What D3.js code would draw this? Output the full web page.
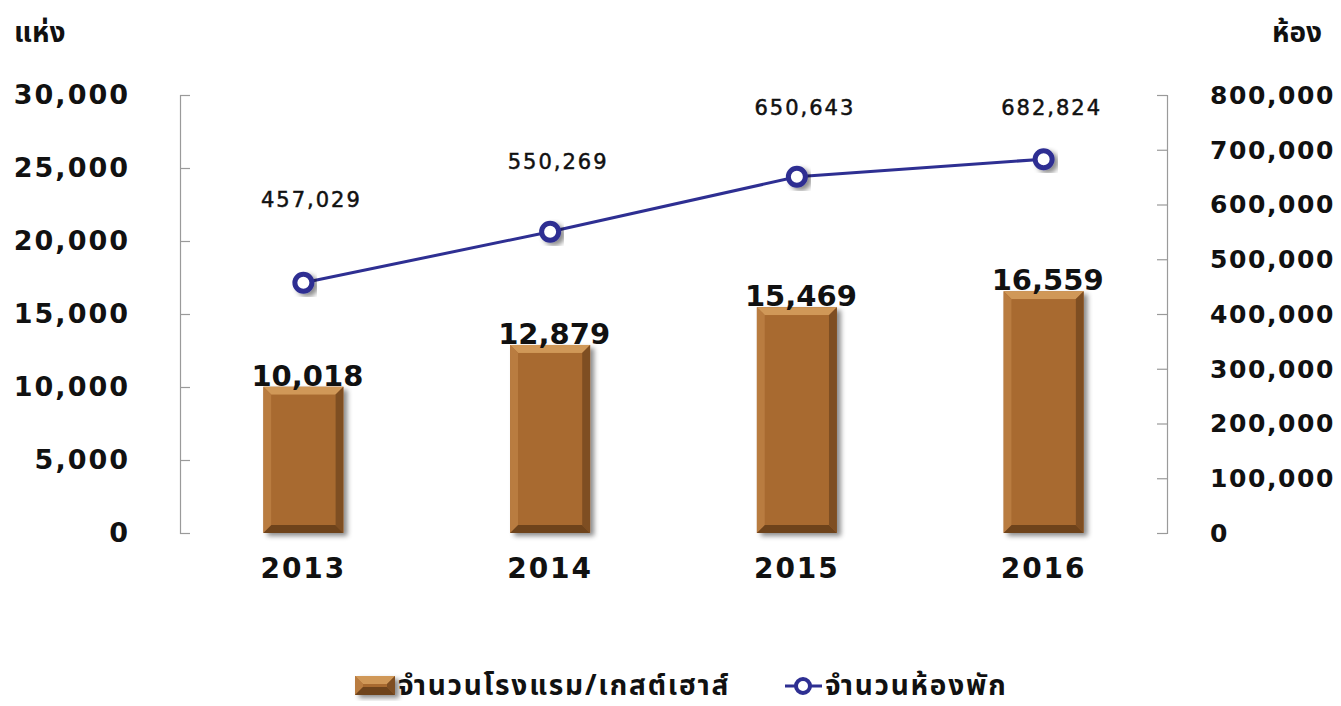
<!DOCTYPE html>
<html>
<head>
<meta charset="utf-8">
<script src="https://cdn.jsdelivr.net/npm/d3@7"></script>
<style>
  body { margin: 0; background: #fff; }
  text { font-family: "Noto Sans Thai", "Noto Sans", "DejaVu Sans", sans-serif; fill: #111; }
  text.num { font-family: "DejaVu Sans", sans-serif; }
</style>
</head>
<body>
<div id="chart"></div>
<script>
// data
var years = ["2013", "2014", "2015", "2016"];
var hotels = [10018, 12879, 15469, 16559];
var rooms = [457029, 550269, 650643, 682824];
var leftTicks = [0, 5000, 10000, 15000, 20000, 25000, 30000];
var rightTicks = [0, 100000, 200000, 300000, 400000, 500000, 600000, 700000, 800000];
var seriesNames = ["จำนวนโรงแรม/เกสต์เฮาส์", "จำนวนห้องพัก"];

// line label nudges, hand placed like in the original
var labelDy = [-83, -70, -69, -52];

var W = 1341, H = 706;
var pLeft = 180, pRight = 1167, pTop = 95, pBottom = 533;

var svg = d3.select("#chart").append("svg")
   .attr("width", W)
   .attr("height", H);

var defs = svg.append("defs");
var f = defs.append("filter").attr("id", "shadow")
   .attr("x", "-20%").attr("y", "-20%").attr("width", "150%").attr("height", "150%");
f.append("feDropShadow").attr("dx", 4).attr("dy", 3).attr("stdDeviation", 2.5)
   .attr("flood-color", "#000").attr("flood-opacity", 0.45);

var x = d3.scaleBand().domain(years).range([pLeft, pRight]);
var yL = d3.scaleLinear().domain([0, 30000]).range([pBottom, pTop]);
var yR = d3.scaleLinear().domain([0, 800000]).range([pBottom, pTop]);
var fmt = d3.format(",");

// axes
var axL = svg.append("g").attr("transform", "translate(" + pLeft + ",0)")
   .call(d3.axisRight(yL).tickValues(leftTicks).tickSize(10).tickFormat(""));
var axR = svg.append("g").attr("transform", "translate(" + pRight + ",0)")
   .call(d3.axisLeft(yR).tickValues(rightTicks).tickSize(10).tickFormat(""));
[axL, axR].forEach(function(a){
    a.selectAll("path").attr("stroke", "#9a9a9a").attr("stroke-width", 1.2);
    a.selectAll("line").attr("stroke", "#9a9a9a").attr("stroke-width", 1.2);
});

svg.selectAll(".ltick").data(leftTicks).enter().append("text")
   .attr("class", "num")
   .attr("x", 130).attr("y", function(d){ return yL(d); })
   .attr("dy", "0.35em").attr("text-anchor", "end")
   .style("font-size", "27px").style("font-weight", "bold").style("letter-spacing", "2px")
   .text(function(d){ return fmt(d); });

svg.selectAll(".rtick").data(rightTicks).enter().append("text")
   .attr("class", "num")
   .attr("x", 1210).attr("y", function(d){ return yR(d); })
   .attr("dy", "0.35em").attr("text-anchor", "start")
   .style("font-size", "25px").style("font-weight", "bold").style("letter-spacing", "1.6px")
   .text(function(d){ return fmt(d); });

svg.append("text").attr("x", 14).attr("y", 42)
   .style("font-size", "28px").style("font-weight", "bold").text("แห่ง");
svg.append("text").attr("x", 1322).attr("y", 42).attr("text-anchor", "end")
   .style("font-size", "28px").style("font-weight", "bold").text("ห้อง");

svg.selectAll(".year").data(years).enter().append("text")
   .attr("class", "num")
   .attr("x", function(d){ return x(d) + x.bandwidth()/2; })
   .attr("y", 578).attr("text-anchor", "middle")
   .style("font-size", "28px").style("font-weight", "bold").style("letter-spacing", "2px")
   .text(function(d){ return d; });

// bevelled bar
function bevelBar(g, x0, y0, w, h) {
    var b = Math.min(8, h/2);
    g.append("rect").attr("x", x0).attr("y", y0).attr("width", w).attr("height", h)
       .attr("fill", "#a86a30").attr("filter", "url(#shadow)");
    var x1 = x0 + w, y1 = y0 + h;
    var pts = function(a){ return a.map(function(p){ return p.join(","); }).join(" "); };
    g.append("polygon").attr("points", pts([[x0,y0],[x1,y0],[x1-b,y0+b],[x0+b,y0+b]])).attr("fill", "#d09858");
    g.append("polygon").attr("points", pts([[x0,y0],[x0+b,y0+b],[x0+b,y1-b],[x0,y1]])).attr("fill", "#b97c40");
    g.append("polygon").attr("points", pts([[x1,y0],[x1,y1],[x1-b,y1-b],[x1-b,y0+b]])).attr("fill", "#7e4e22");
    g.append("polygon").attr("points", pts([[x0,y1],[x0+b,y1-b],[x1-b,y1-b],[x1,y1]])).attr("fill", "#6e431b");
    g.append("rect").attr("x", x0+b).attr("y", y0+b).attr("width", w-2*b).attr("height", h-2*b).attr("fill", "#a86a30");
}

var barW = 80;
hotels.forEach(function(v, i){
    var cx = x(years[i]) + x.bandwidth()/2;
    bevelBar(svg.append("g"), cx - barW/2, yL(v), barW, pBottom - yL(v));
});

svg.selectAll(".blabel").data(hotels).enter().append("text")
   .attr("class", "num")
   .attr("x", function(d, i){ return x(years[i]) + x.bandwidth()/2 + 4; })
   .attr("y", function(d){ return yL(d) - 1; })
   .attr("text-anchor", "middle")
   .style("font-size", "29px").style("font-weight", "bold")
   .text(function(d){ return fmt(d); });

// line
var line = d3.line()
   .x(function(d, i){ return x(years[i]) + x.bandwidth()/2; })
   .y(function(d){ return yR(d); });

svg.append("path").datum(rooms).attr("d", line)
   .attr("fill", "none").attr("stroke", "#2e2f92").attr("stroke-width", 3);

svg.selectAll(".pt").data(rooms).enter().append("circle")
   .attr("cx", function(d, i){ return x(years[i]) + x.bandwidth()/2; })
   .attr("cy", function(d){ return yR(d); })
   .attr("r", 8.5)
   .attr("fill", "#fff").attr("stroke", "#2e2f92").attr("stroke-width", 5)
   .attr("filter", "url(#shadow)");

svg.selectAll(".plabel").data(rooms).enter().append("text")
   .attr("class", "num")
   .attr("x", function(d, i){ return x(years[i]) + x.bandwidth()/2 + 8; })
   .attr("y", function(d, i){ return yR(d) + labelDy[i]; })
   .attr("dy", "0.35em").attr("text-anchor", "middle")
   .style("font-size", "21px").style("letter-spacing", "2px")
   .style("stroke", "#111").style("stroke-width", "0.5px")
   .text(function(d){ return fmt(d); });

// legend
var lg = svg.append("g");
var legY = 686;
bevelBar(lg, 355, legY - 10, 40, 19);
lg.append("text").attr("x", 398).attr("y", legY).attr("dy", "0.32em")
   .style("font-size", "28px").style("font-weight", "bold").style("letter-spacing", "1.8px").text(seriesNames[0]);
lg.append("line").attr("x1", 785).attr("x2", 822).attr("y1", legY).attr("y2", legY)
   .attr("stroke", "#2e2f92").attr("stroke-width", 3);
lg.append("circle").attr("cx", 803).attr("cy", legY).attr("r", 7)
   .attr("fill", "#fff").attr("stroke", "#2e2f92").attr("stroke-width", 4);
lg.append("text").attr("x", 825).attr("y", legY).attr("dy", "0.32em")
   .style("font-size", "28px").style("font-weight", "bold").style("letter-spacing", "1.8px").text(seriesNames[1]);
</script>
</body>
</html>
